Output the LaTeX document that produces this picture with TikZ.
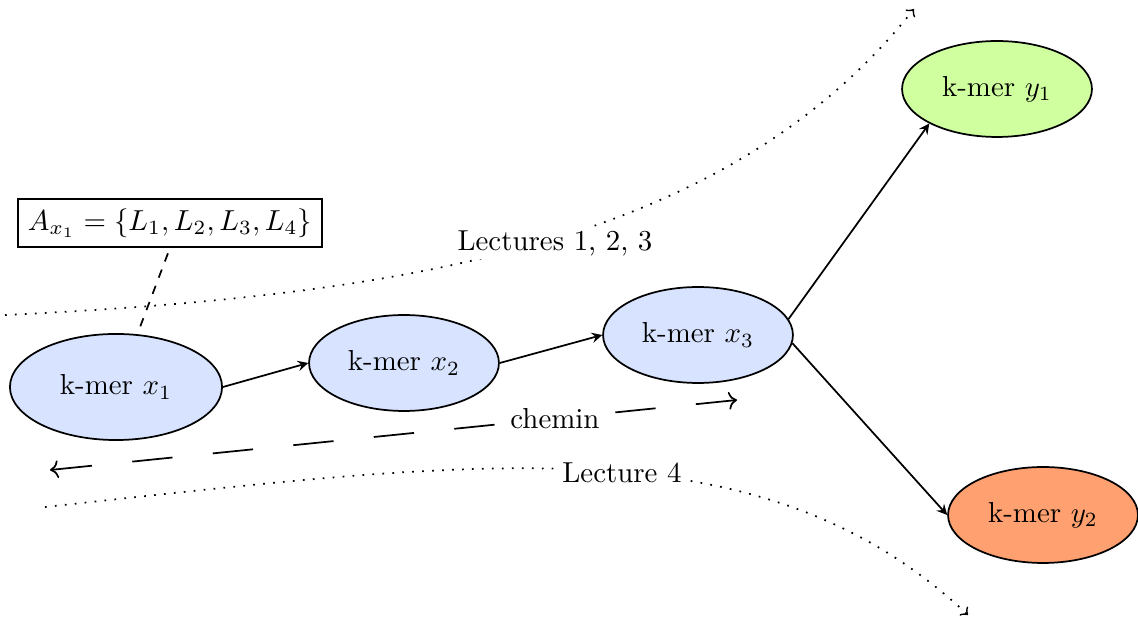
\documentclass[tikz,border=0pt]{standalone}
\usetikzlibrary{shapes.geometric,arrows.meta}
\definecolor{kblue}{RGB}{216,228,255}
\definecolor{kgreen}{RGB}{208,255,160}
\definecolor{korange}{RGB}{255,160,112}
\begin{document}
\begin{tikzpicture}[x=0.346pt,y=-0.346pt,
  kmer/.style={ellipse, draw, semithick, fill=kblue, minimum width=65.7pt, minimum height=33.2pt, inner sep=0pt},
  edge/.style={semithick,-stealth},
  lbl/.style={fill=white, inner sep=1pt},
  lect/.style={line width=0.6pt, dash pattern=on 0.6pt off 2.85pt, -to}]
\useasboundingbox (0,0) rectangle (1138,622);

\node[kmer, minimum width=73.4pt, minimum height=36.7pt] (x1) at (116,387) {k-mer $x_1$};
\node[kmer] (x2) at (404,363) {k-mer $x_2$};
\node[kmer] (x3) at (698,335) {k-mer $x_3$};
\node[kmer, fill=kgreen] (y1) at (997,89) {k-mer $y_1$};
\node[kmer, fill=korange] (y2) at (1043,515) {k-mer $y_2$};

\node[draw, semithick] (A) at (170,223) {$A_{x_1} = \{L_1, L_2, L_3, L_4\}$};

\draw[edge] (x1.east) -- (x2.west);
\draw[edge] (x2.east) -- (x3.west);
\draw[edge] (x3.10) -- (y1.south west);
\draw[edge] (x3.-5) -- (y2.west);

\draw[semithick, dashed, shorten <=2pt] (A.south) -- (x1.68);

\coordinate (cL) at (50,470);
\coordinate (cR) at (737,400);
\draw[semithick, <->, dash pattern=on 14pt off 14pt] (cL) -- node[lbl, pos=0.735] (chem) {chemin} (cR);

\coordinate (t0) at (5,315);
\coordinate (t1) at (914,9);
\draw[lect] (t0) .. controls (420,295) and (730,240) .. (t1);
\node[lbl] (lt) at (555,243) {Lectures 1, 2, 3};

\coordinate (b0) at (45,507);
\coordinate (b1) at (968,615);
\draw[lect] (b0) .. controls (480,460) and (760,420) .. (b1);
\node[lbl] (lb) at (622,473) {Lecture 4};
\end{tikzpicture}
\end{document}
